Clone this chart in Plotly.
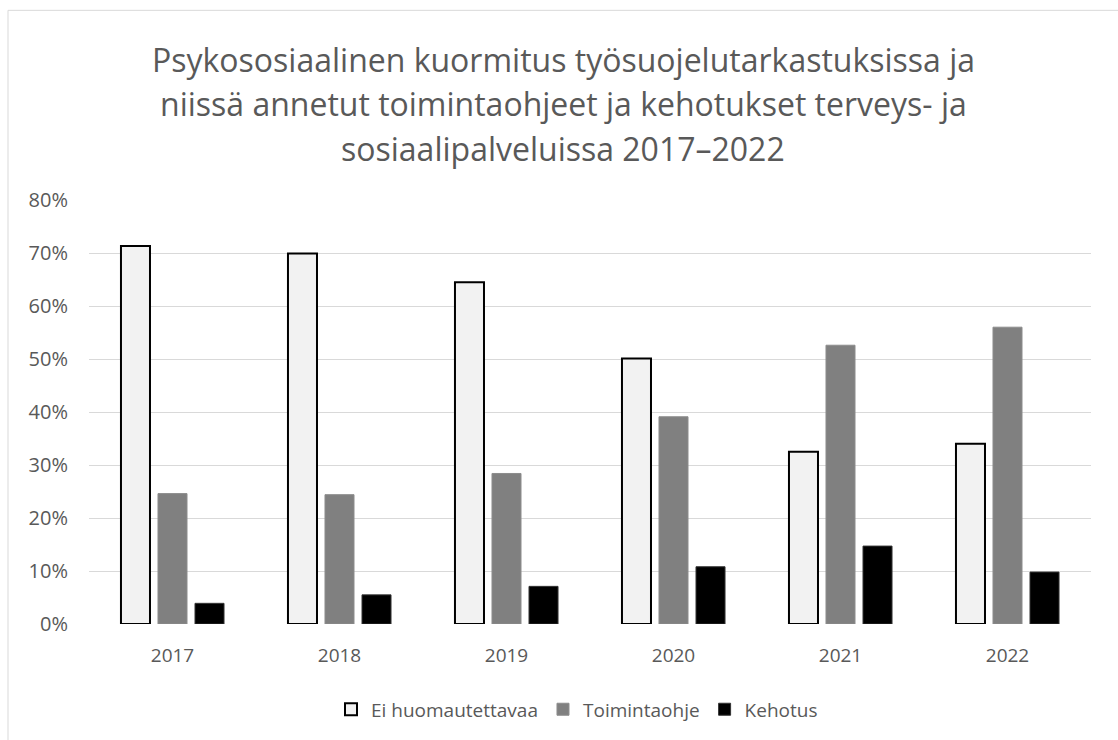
import plotly.graph_objects as go

years = ["2017", "2018", "2019", "2020", "2021", "2022"]
ei_huom = [71.3, 69.9, 64.5, 50.1, 32.5, 34.0]
toimintaohje = [24.6, 24.4, 28.4, 39.1, 52.6, 56.0]
kehotus = [3.9, 5.5, 7.1, 10.8, 14.7, 9.8]

title_lines = ["Psykososiaalinen kuormitus työsuojelutarkastuksissa ja",
               "niissä annetut toimintaohjeet ja kehotukset terveys- ja",
               "sosiaalipalveluissa 2017–2022"]

font_family = "'Open Sans', sans-serif"
gray_text = "#595959"

W, H = 1118, 740
L, R, T, B = 89, 1091, 200, 627
pw, ph = R - L, B - T


def px_x(x):
    return (x - L) / pw


def px_y(y):
    return (B - y) / ph


fig = go.Figure()
fig.add_trace(go.Bar(name="Ei huomautettavaa", x=years, y=[v / 100 for v in ei_huom],
                     marker=dict(color="#f2f2f2", line=dict(color="#000000", width=2))))
fig.add_trace(go.Bar(name="Toimintaohje", x=years, y=[v / 100 for v in toimintaohje],
                     marker=dict(color="#808080", line=dict(color="#8c8c8c", width=1))))
fig.add_trace(go.Bar(name="Kehotus", x=years, y=[v / 100 for v in kehotus],
                     marker=dict(color="#000000", line=dict(color="#333333", width=1))))

title_centers = [59, 103, 148]
annotations = [dict(text=t, x=px_x(563), y=px_y(c), xref="paper", yref="paper",
                    xanchor="center", yanchor="middle", showarrow=False,
                    font=dict(size=32, color=gray_text, family=font_family))
               for t, c in zip(title_lines, title_centers)]

fig.update_layout(
    width=W, height=H,
    paper_bgcolor="white", plot_bgcolor="white",
    margin=dict(l=L, r=W - R, t=T, b=H - B),
    barmode="group", bargap=0.335, bargroupgap=0.216,
    font=dict(family=font_family, color=gray_text, size=18),
    annotations=annotations,
    legend=dict(orientation="h", x=px_x(577), xanchor="center", y=px_y(713), yanchor="middle",
                font=dict(size=19, color=gray_text), traceorder="normal",
                itemwidth=30),
    xaxis=dict(showgrid=False, ticks="", showline=False, ticklabelstandoff=18,
               tickfont=dict(size=19, color=gray_text)),
    yaxis=dict(range=[0, 0.8], dtick=0.1, tickformat=".0%", showgrid=True,
               gridcolor="#d9d9d9", gridwidth=1, zeroline=False, showline=False,
               ticks="", ticklen=0, ticklabelstandoff=20,
               tickfont=dict(size=20, color=gray_text)),
    shapes=[dict(type="rect", xref="paper", yref="paper",
                 x0=px_x(8), x1=px_x(1130),
                 y0=px_y(760), y1=px_y(9),
                 line=dict(color="#d9d9d9", width=1), fillcolor="rgba(0,0,0,0)",
                 layer="below")],
)

fig.write_html("out.html", config={"displayModeBar": False},
               post_script="document.body.style.margin='0';")
